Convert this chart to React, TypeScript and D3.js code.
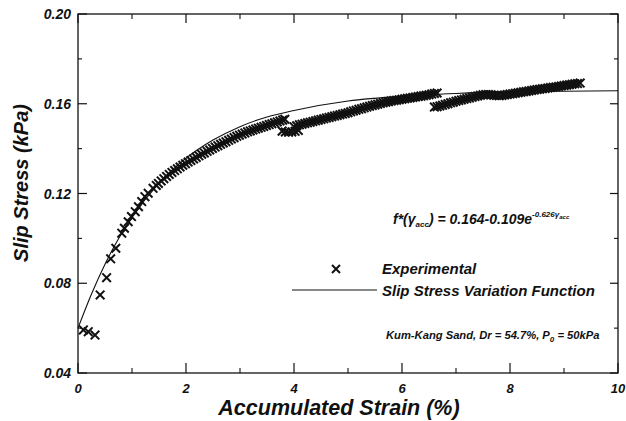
import React from "react";
import * as d3 from "d3";

// ---- data ----
const xTicksMajor = [0, 2, 4, 6, 8, 10];
const xTicksMinor = [1, 3, 5, 7, 9];
const yTicksMajor = [0.04, 0.08, 0.12, 0.16, 0.2];
const yTicksMinor = [0.06, 0.1, 0.14, 0.18];

// fitted "Slip Stress Variation Function"
const curveX = [0, 0.25, 0.5, 0.75, 1, 1.5, 2, 2.5, 3, 3.5, 4, 5, 6, 7, 8, 9, 10];
const curveY = [0.0600, 0.0752, 0.0885, 0.0998, 0.1093, 0.1246, 0.1357, 0.1438, 0.1498, 0.1541, 0.1570, 0.1612, 0.1634, 0.1646, 0.1653, 0.1656, 0.1658];

// experimental points (accumulated strain %, slip stress kPa)
const expEarly: [number, number][] = [
  [0.10, 0.0592], [0.19, 0.0584], [0.315, 0.0569], [0.41, 0.0748], [0.53, 0.0825], [0.605, 0.0909],
  [0.70, 0.0956], [0.81, 0.1023], [0.86, 0.1045], [0.93, 0.1074], [0.99, 0.1097], [1.06, 0.1119],
  [1.12, 0.1141], [1.18, 0.1164], [1.24, 0.1186], [1.30, 0.1201], [1.39, 0.1223], [1.45, 0.1236],
];
const expBand1: [number, number][] = [
  [1.49, 0.1245], [1.54, 0.1256], [1.59, 0.1266], [1.64, 0.1276], [1.69, 0.1285], [1.74, 0.1294],
  [1.79, 0.1302], [1.84, 0.1310], [1.89, 0.1318], [1.94, 0.1326], [1.99, 0.1333], [2.04, 0.1340],
  [2.09, 0.1347], [2.14, 0.1354], [2.19, 0.1361], [2.24, 0.1368], [2.29, 0.1375], [2.34, 0.1381],
  [2.39, 0.1388], [2.44, 0.1394], [2.49, 0.1401], [2.54, 0.1407], [2.59, 0.1413], [2.64, 0.1419],
  [2.69, 0.1425], [2.74, 0.1431], [2.79, 0.1437], [2.84, 0.1443], [2.89, 0.1449], [2.94, 0.1455],
  [2.99, 0.1460], [3.04, 0.1465], [3.09, 0.1470], [3.14, 0.1475], [3.19, 0.1479], [3.24, 0.1483],
  [3.29, 0.1487], [3.34, 0.1491], [3.39, 0.1495], [3.44, 0.1499], [3.49, 0.1503], [3.54, 0.1507],
  [3.59, 0.1511], [3.64, 0.1515], [3.69, 0.1519], [3.74, 0.1523], [3.79, 0.1527], [3.83, 0.1531],
];
const expBand2: [number, number][] = [
  [3.78, 0.1478], [3.84, 0.1474], [3.90, 0.1473], [3.96, 0.1474], [4.02, 0.1477], [4.08, 0.1481],
  [4.00, 0.1498], [4.05, 0.1502], [4.10, 0.1506], [4.15, 0.1509], [4.20, 0.1512], [4.25, 0.1515],
  [4.30, 0.1518], [4.35, 0.1521], [4.40, 0.1524], [4.45, 0.1527], [4.50, 0.1530], [4.55, 0.1533],
  [4.60, 0.1536], [4.65, 0.1539], [4.70, 0.1542], [4.75, 0.1545], [4.80, 0.1548], [4.85, 0.1551],
  [4.90, 0.1554], [4.95, 0.1557], [5.00, 0.1560], [5.05, 0.1564], [5.10, 0.1568], [5.15, 0.1571],
  [5.20, 0.1575], [5.25, 0.1578], [5.30, 0.1582], [5.35, 0.1585], [5.40, 0.1589], [5.45, 0.1592],
  [5.50, 0.1595], [5.55, 0.1598], [5.60, 0.1601], [5.65, 0.1604], [5.70, 0.1607], [5.75, 0.1609],
  [5.80, 0.1612], [5.85, 0.1614], [5.90, 0.1616], [5.95, 0.1618], [6.00, 0.1620], [6.05, 0.1622],
  [6.10, 0.1624], [6.15, 0.1626], [6.20, 0.1628], [6.25, 0.1630], [6.30, 0.1632], [6.35, 0.1634],
  [6.40, 0.1636], [6.45, 0.1638], [6.50, 0.1640], [6.55, 0.1643], [6.60, 0.1646], [6.65, 0.1648],
];
const expBand3: [number, number][] = [
  [6.60, 0.1585], [6.65, 0.1587], [6.70, 0.1590], [6.75, 0.1593], [6.80, 0.1597], [6.85, 0.1600],
  [6.90, 0.1604], [6.95, 0.1607], [7.00, 0.1611], [7.05, 0.1614], [7.10, 0.1617], [7.15, 0.1620],
  [7.20, 0.1623], [7.25, 0.1626], [7.30, 0.1629], [7.35, 0.1632], [7.40, 0.1635], [7.45, 0.1638],
  [7.50, 0.1640], [7.55, 0.1641], [7.60, 0.1641], [7.65, 0.1640], [7.70, 0.1638], [7.75, 0.1637],
  [7.80, 0.1636], [7.85, 0.1637], [7.90, 0.1639], [7.95, 0.1641], [8.00, 0.1643], [8.05, 0.1645],
  [8.10, 0.1647], [8.15, 0.1649], [8.20, 0.1651], [8.25, 0.1653], [8.30, 0.1655], [8.35, 0.1657],
  [8.40, 0.1659], [8.45, 0.1661], [8.50, 0.1663], [8.55, 0.1665], [8.60, 0.1667], [8.65, 0.1668],
  [8.70, 0.1670], [8.75, 0.1672], [8.80, 0.1674], [8.85, 0.1675], [8.90, 0.1677], [8.95, 0.1679],
  [9.00, 0.1681], [9.05, 0.1683], [9.10, 0.1685], [9.15, 0.1687], [9.20, 0.1689], [9.25, 0.1690],
  [9.30, 0.1692],
];

const FONT = "'Liberation Sans', Arial, Helvetica, sans-serif";
const INK = "#111";

export default function App() {
  const W = 626, H = 421;
  const left = 78, right = 618, top = 14, bottom = 373;
  const x = d3.scaleLinear().domain([0, 10]).range([left, right]);
  const y = d3.scaleLinear().domain([0.04, 0.2]).range([bottom, top]);

  const curveData = curveX.map((v, i) => [v, curveY[i]] as [number, number]);
  const line = d3
    .line<[number, number]>()
    .x((d) => x(d[0]))
    .y((d) => y(d[1]))
    .curve(d3.curveMonotoneX);

  const allPts = [...expEarly, ...expBand1, ...expBand2, ...expBand3];
  const mk = 4.3;
  const cross = `M${-mk},${-mk}L${mk},${mk}M${-mk},${mk}L${mk},${-mk}`;
  const fmt = d3.format(".2f");

  const textStyle = { fontFamily: FONT, fontWeight: 700, fontStyle: "italic" as const, fill: INK };

  return (
    <svg width={W} height={H} style={{ position: "absolute", left: 0, top: 0, background: "#fff" }}>
      <rect x={0} y={0} width={W} height={H} fill="#fff" />
      {/* frame */}
      <rect x={left} y={top} width={right - left} height={bottom - top} fill="none" stroke={INK} strokeWidth={1.3} />
      {/* x ticks */}
      {xTicksMajor.map((t) => (
        <g key={"xm" + t}>
          <line x1={x(t)} x2={x(t)} y1={bottom} y2={bottom - 10} stroke={INK} strokeWidth={1.2} />
          <line x1={x(t)} x2={x(t)} y1={top} y2={top + 9} stroke={INK} strokeWidth={1.2} />
          <text x={x(t)} y={393} textAnchor="middle" fontSize={13} {...textStyle}>
            {t}
          </text>
        </g>
      ))}
      {xTicksMinor.map((t) => (
        <g key={"xn" + t}>
          <line x1={x(t)} x2={x(t)} y1={bottom} y2={bottom - 5} stroke={INK} strokeWidth={1.1} />
          <line x1={x(t)} x2={x(t)} y1={top} y2={top + 5} stroke={INK} strokeWidth={1.1} />
        </g>
      ))}
      {/* y ticks */}
      {yTicksMajor.map((t) => (
        <g key={"ym" + t}>
          <line x1={left} x2={left + 9} y1={y(t)} y2={y(t)} stroke={INK} strokeWidth={1.2} />
          <line x1={right} x2={right - 8} y1={y(t)} y2={y(t)} stroke={INK} strokeWidth={1.2} />
          <text x={71} y={y(t)} dy="0.36em" textAnchor="end" fontSize={14} {...textStyle}>
            {fmt(t)}
          </text>
        </g>
      ))}
      {yTicksMinor.map((t) => (
        <g key={"yn" + t}>
          <line x1={left} x2={left + 4} y1={y(t)} y2={y(t)} stroke={INK} strokeWidth={1.1} />
          <line x1={right} x2={right - 4} y1={y(t)} y2={y(t)} stroke={INK} strokeWidth={1.1} />
        </g>
      ))}
      {/* axis titles */}
      <text x={339} y={415} textAnchor="middle" fontSize={21.5} {...textStyle}>
        Accumulated Strain (%)
      </text>
      <text
        transform={`translate(28,183) rotate(-90)`}
        textAnchor="middle"
        fontSize={20}
        {...textStyle}
      >
        Slip Stress (kPa)
      </text>
      {/* fitted curve */}
      <path d={line(curveData) || ""} fill="none" stroke={INK} strokeWidth={1.1} />
      {/* experimental markers */}
      <g stroke={INK} strokeWidth={2} fill="none">
        {allPts.map((p, i) => (
          <path key={i} d={cross} transform={`translate(${x(p[0])},${y(p[1])})`} />
        ))}
      </g>
      {/* formula */}
      <text x={393} y={224} fontSize={14} {...textStyle}>
        f*(γ
        <tspan fontSize={8} dy={3}>acc</tspan>
        <tspan dy={-3}>) = 0.164-0.109e</tspan>
        <tspan fontSize={8} dy={-7}>-0.626γ</tspan>
        <tspan fontSize={6} dy={2}>acc</tspan>
      </text>
      {/* legend */}
      <path d={`M332,265L340,273M332,273L340,265`} stroke={INK} strokeWidth={2} fill="none" />
      <text x={382} y={274} fontSize={15} {...textStyle}>
        Experimental
      </text>
      <line x1={292} x2={377} y1={290} y2={290} stroke={INK} strokeWidth={1.1} />
      <text x={382} y={296} fontSize={15} {...textStyle}>
        Slip Stress Variation Function
      </text>
      {/* conditions */}
      <text x={386} y={339} fontSize={11.2} {...textStyle}>
        Kum-Kang Sand, Dr = 54.7%, P
        <tspan fontSize={8} dy={3}>0</tspan>
        <tspan dy={-3}> = 50kPa</tspan>
      </text>
    </svg>
  );
}
